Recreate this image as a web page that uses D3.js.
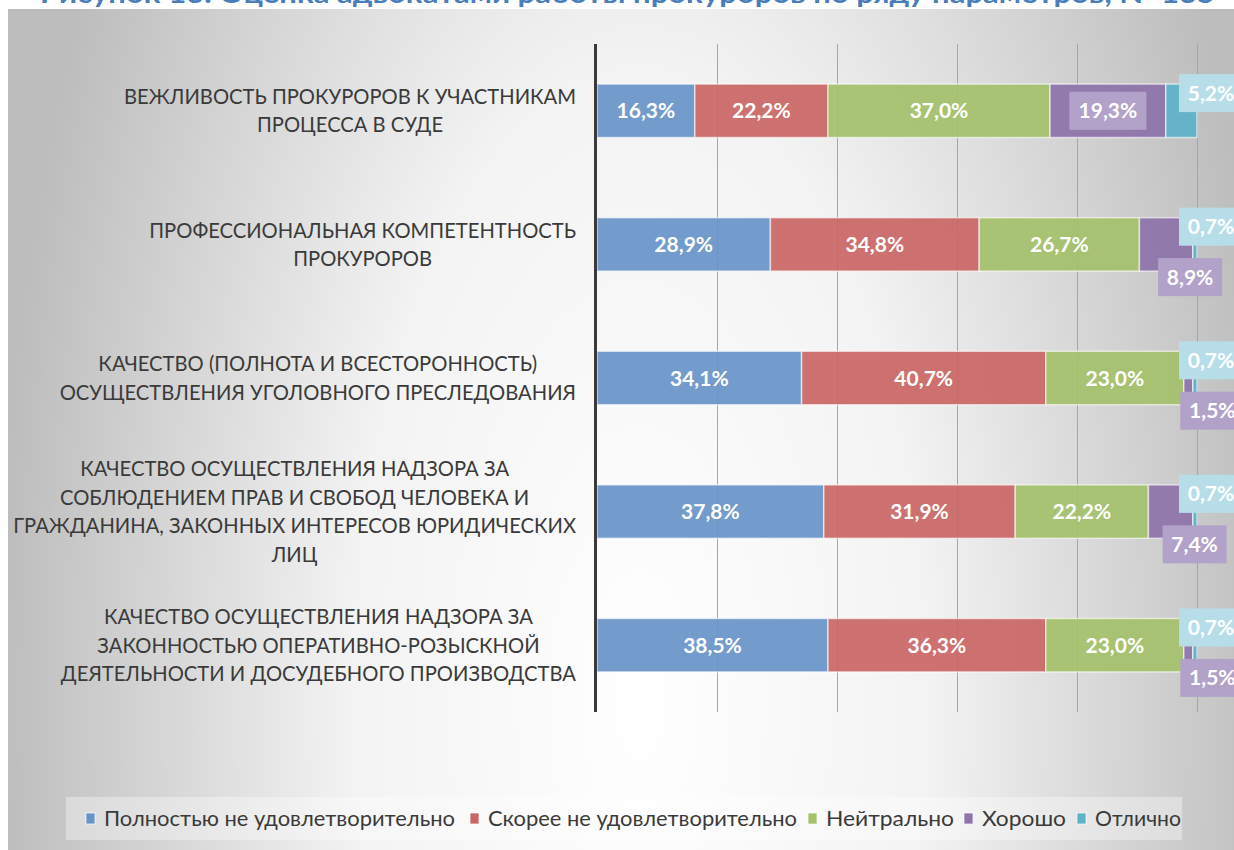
<!DOCTYPE html>
<html>
<head>
<meta charset="utf-8">
<script src="https://cdn.jsdelivr.net/npm/d3@7"></script>
<style>
  html, body { margin: 0; padding: 0; background: #fff; }
  svg { display: block; }
</style>
</head>
<body>
<div id="chart"></div>
<script>
// data
var categories = [
  ["ВЕЖЛИВОСТЬ ПРОКУРОРОВ К УЧАСТНИКАМ", "ПРОЦЕССА В СУДЕ"],
  ["ПРОФЕССИОНАЛЬНАЯ КОМПЕТЕНТНОСТЬ", "ПРОКУРОРОВ"],
  ["КАЧЕСТВО (ПОЛНОТА И ВСЕСТОРОННОСТЬ)", "ОСУЩЕСТВЛЕНИЯ УГОЛОВНОГО ПРЕСЛЕДОВАНИЯ"],
  ["КАЧЕСТВО ОСУЩЕСТВЛЕНИЯ НАДЗОРА ЗА", "СОБЛЮДЕНИЕМ ПРАВ И СВОБОД ЧЕЛОВЕКА И", "ГРАЖДАНИНА, ЗАКОННЫХ ИНТЕРЕСОВ ЮРИДИЧЕСКИХ", "ЛИЦ"],
  ["КАЧЕСТВО ОСУЩЕСТВЛЕНИЯ НАДЗОРА ЗА", "ЗАКОННОСТЬЮ ОПЕРАТИВНО-РОЗЫСКНОЙ", "ДЕЯТЕЛЬНОСТИ И ДОСУДЕБНОГО ПРОИЗВОДСТВА"]
];
var seriesNames = ["Полностью не удовлетворительно", "Скорее не удовлетворительно", "Нейтрально", "Хорошо", "Отлично"];
var poor     = [16.3, 28.9, 34.1, 37.8, 38.5];
var ratherPoor = [22.2, 34.8, 40.7, 31.9, 36.3];
var neutral  = [37.0, 26.7, 23.0, 22.2, 23.0];
var good     = [19.3, 8.9, 1.5, 7.4, 1.5];
var excellent = [5.2, 0.7, 0.7, 0.7, 0.7];
var xTicks = [0, 20, 40, 60, 80, 100];
var title = "Рисунок 13. Оценка адвокатами работы прокуроров по ряду параметров, N=135";

var colors = ["#6893c7", "#c96766", "#a5c16c", "#8d74a9", "#5cb2c8"];
var callFill = {3: "#b2a2c9", 4: "#b7dde8"};

var width = 1234, height = 850;
var svg = d3.select("#chart").append("svg").attr("width", width).attr("height", height);

//background gradient
var defs = svg.append("defs");
var grad = defs.append("radialGradient").attr("id", "bg")
  .attr("gradientUnits", "userSpaceOnUse")
  .attr("cx", 640).attr("cy", 700).attr("r", 640)
  .attr("gradientTransform", "translate(640,700) scale(1,2.2) translate(-640,-700)");
grad.append("stop").attr("offset", 0).attr("stop-color", "#ffffff");
grad.append("stop").attr("offset", 0.45).attr("stop-color", "#f3f3f3");
grad.append("stop").attr("offset", 1).attr("stop-color", "#bdbdbd");

svg.append("rect").attr("x", 8).attr("y", 9).attr("width", width - 8).attr("height", height - 9)
  .attr("fill", "url(#bg)");

// title, mostly cut off at the top
svg.append("text").attr("x", 40).attr("y", 3)
  .attr("font-family", "Lato, 'Open Sans', sans-serif").attr("font-weight", "bold")
  .attr("font-size", 27).attr("fill", "#4a7ebb")
  .attr("textLength", 1175).attr("lengthAdjust", "spacingAndGlyphs")
  .text(title);

var x = d3.scaleLinear().domain([0, 100]).range([597, 1197]);
var y = d3.scaleBand().domain(d3.range(categories.length)).range([44, 712])
  .paddingInner(0.6).paddingOuter(0.3);

// gridlines
svg.append("g").selectAll("line").data(xTicks.slice(1)).enter().append("line")
  .attr("x1", function(d) { return x(d) + 0.5; }).attr("x2", function(d) { return x(d) + 0.5; })
  .attr("y1", 44).attr("y2", 712)
  .attr("stroke", "#a6a6a6").attr("stroke-width", 1);

// stack
var table = categories.map(function(c, i) {
  return {i: i, s0: poor[i], s1: ratherPoor[i], s2: neutral[i], s3: good[i], s4: excellent[i]};
});
var stack = d3.stack().keys(["s0", "s1", "s2", "s3", "s4"]);
var layers = stack(table);

var gBars = svg.append("g");
layers.forEach(function(layer, k) {
  gBars.selectAll(null).data(layer).enter().append("rect")
    .attr("x", function(d) { return x(d[0]); })
    .attr("width", function(d) { return x(d[1]) - x(d[0]); })
    .attr("y", function(d) { return y(d.data.i); })
    .attr("height", y.bandwidth())
    .attr("fill", colors[k]).attr("fill-opacity", 0.93)
    .attr("stroke", "#ffffff").attr("stroke-opacity", 0.6).attr("stroke-width", 1.5);
});

// axis line
svg.append("line").attr("x1", x(0) - 1.5).attr("x2", x(0) - 1.5).attr("y1", 44).attr("y2", 712)
  .attr("stroke", "#3a3a3a").attr("stroke-width", 3);

// data labels
var fmt = function(v) { return v.toFixed(1).replace(".", ",") + "%"; };
var lblFont = "Lato, 'Open Sans', sans-serif";
var gLab = svg.append("g");
layers.forEach(function(layer, k) {
  layer.forEach(function(d) {
    var v = d[1] - d[0];
    var x0 = x(d[0]), x1 = x(d[1]);
    var cy = y(d.data.i) + y.bandwidth() / 2;
    var cx = (x0 + x1) / 2;
    var t = fmt(v);
    var small = (x1 - x0) < 60;
    var boxW = 64, boxH = 38;
    if (k === 4) {
      cx = x(100) + 14; cy = y(d.data.i) - 10 + boxH / 2;
    } else if (k === 3 && small) {
      cx = cx + 24; cy = y(d.data.i) + y.bandwidth() - 13 + boxH / 2;
    }
    if (k >= 3) {
      if (!small) boxW = 77;
      gLab.append("rect").attr("x", cx - boxW / 2).attr("y", cy - boxH / 2)
        .attr("width", boxW).attr("height", boxH).attr("fill", callFill[k]);
    }
    gLab.append("text").attr("x", cx).attr("y", cy).attr("dy", "0.36em")
      .attr("text-anchor", "middle")
      .attr("font-family", lblFont).attr("font-weight", "bold").attr("font-size", 21)
      .attr("fill", "#ffffff").text(t);
  });
});

// category labels
var catFont = "Lato, 'Open Sans', sans-serif";
var gCat = svg.append("g").attr("font-family", catFont).attr("font-size", 21).attr("fill", "#3a3a3a");
var probe = gCat.append("text").text(categories[0][0]);
var squeeze = 452 / probe.node().getComputedTextLength();
probe.remove();
categories.forEach(function(lines, i) {
  var widths = lines.map(function(l) {
    var t = gCat.append("text").text(l);
    var w = t.node().getComputedTextLength();
    t.remove();
    return w * squeeze;
  });
  var maxW = d3.max(widths);
  var cx = 576 - maxW / 2;
  var lh = 28.5;
  var cy = y(i) + y.bandwidth() / 2;
  lines.forEach(function(l, j) {
    gCat.append("text").attr("x", cx).attr("y", cy + (j - (lines.length - 1) / 2) * lh)
      .attr("dy", "0.35em").attr("text-anchor", "middle")
      .attr("textLength", widths[j]).attr("lengthAdjust", "spacingAndGlyphs")
      .text(l);
  });
});

// legend
var gLeg = svg.append("g");
gLeg.append("rect").attr("x", 66).attr("y", 797).attr("width", 1116).attr("height", 43)
  .attr("fill", "#ffffff").attr("fill-opacity", 0.35);
var legX = [86, 470, 808, 964, 1077];
var legW = [351, 309, 128, 84, 86];
seriesNames.forEach(function(n, k) {
  gLeg.append("rect").attr("x", legX[k]).attr("y", 813).attr("width", 9).attr("height", 11)
    .attr("fill", colors[k]).attr("stroke", "#ffffff").attr("stroke-opacity", 0.7);
  gLeg.append("text").attr("x", legX[k] + 18).attr("y", 819).attr("dy", "0.35em")
    .attr("font-family", catFont).attr("font-size", 21).attr("fill", "#3a3a3a")
    .attr("textLength", legW[k]).attr("lengthAdjust", "spacingAndGlyphs")
    .text(n);
});
</script>
</body>
</html>
